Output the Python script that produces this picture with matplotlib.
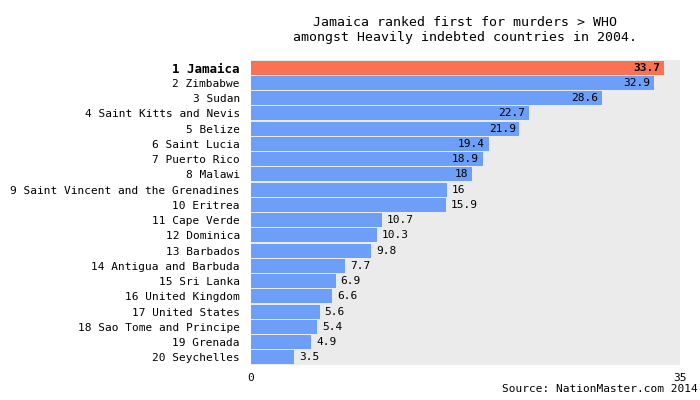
import matplotlib
matplotlib.use("Agg")
import matplotlib.pyplot as plt

countries = ["Jamaica","Zimbabwe","Sudan","Saint Kitts and Nevis","Belize","Saint Lucia",
             "Puerto Rico","Malawi","Saint Vincent and the Grenadines","Eritrea","Cape Verde",
             "Dominica","Barbados","Antigua and Barbuda","Sri Lanka","United Kingdom",
             "United States","Sao Tome and Principe","Grenada","Seychelles"]
values = [33.7,32.9,28.6,22.7,21.9,19.4,18.9,18,16,15.9,10.7,10.3,9.8,7.7,6.9,6.6,5.6,5.4,4.9,3.5]
labels = ["33.7","32.9","28.6","22.7","21.9","19.4","18.9","18","16","15.9","10.7","10.3","9.8","7.7","6.9","6.6","5.6","5.4","4.9","3.5"]

plt.rcParams['font.family'] = ['DejaVu Sans Mono']
fig = plt.figure(figsize=(7, 4), dpi=100)
ax = fig.add_axes([251/700, 35/400, 429/700, 305/400])
ax.set_facecolor('#ebebeb')
n = len(values)
ys = list(range(n))
colors = ['#f97352'] + ['#6d9ef8'] * (n - 1)
ax.barh(ys, values, height=0.92, color=colors, edgecolor='none')
for i, (v, l) in enumerate(zip(values, labels)):
    bold = 'bold' if i == 0 else 'normal'
    if v >= 18:
        ax.text(v - 0.3, i, l, ha='right', va='center', fontsize=8, fontweight=bold, color='black')
    else:
        ax.text(v + 0.4, i, l, ha='left', va='center', fontsize=8, color='black')
ax.set_yticks(ys)
ax.set_yticklabels([f"{i+1} {c}" for i, c in enumerate(countries)], fontsize=8)
ax.get_yticklabels()[0].set_fontweight('bold')
ax.get_yticklabels()[0].set_fontsize(9)
ax.set_ylim(n - 0.5, -0.5)
ax.set_xlim(0, 35)
ax.set_xticks([0, 35])
ax.tick_params(axis='x', labelsize=8, length=0, pad=6)
ax.tick_params(axis='y', length=0, pad=8)
for s in ax.spines.values():
    s.set_visible(False)
fig.text(465/700, 1 - 30/400, "Jamaica ranked first for murders > WHO\namongst Heavily indebted countries in 2004.",
         ha='center', va='center', fontsize=9.5, linespacing=1.1)
fig.text(698/700, 1 - 394/400, "Source: NationMaster.com 2014", ha='right', va='bottom', fontsize=8)
fig.savefig("out.png", dpi=100)
